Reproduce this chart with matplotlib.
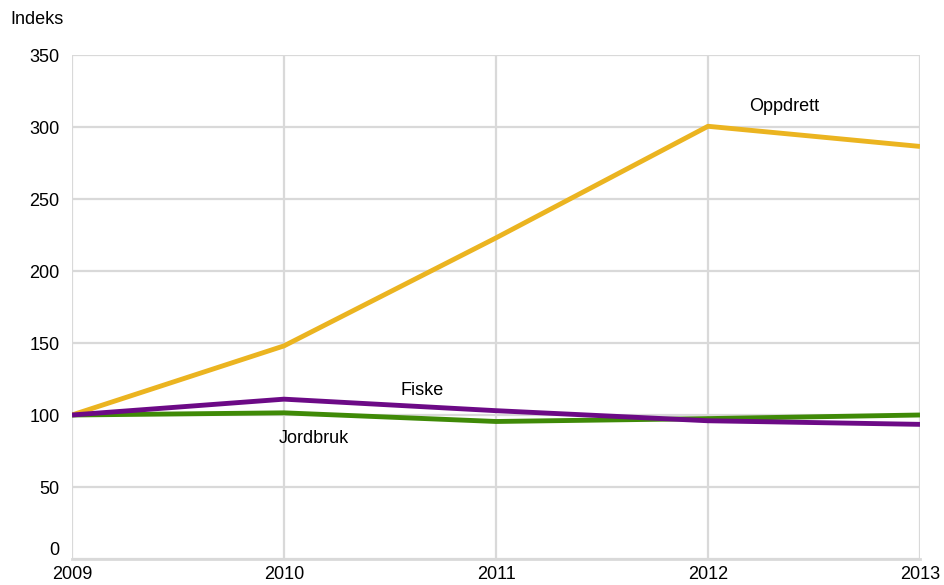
import matplotlib.pyplot as plt

plt.rcParams["font.family"] = ["Liberation Sans", "DejaVu Sans"]

years = [2009, 2010, 2011, 2012, 2013]
oppdrett = [100, 148, 223, 300.5, 286.5]
fiske = [100, 111, 103, 96, 93.5]
jordbruk = [100, 101.5, 95.5, 97.5, 100]

yticks = [0, 50, 100, 150, 200, 250, 300, 350]

fig = plt.figure(figsize=(9.45, 5.85), dpi=100)
ax = fig.add_axes([72 / 945, 1 - 559 / 585, 848 / 945, 504 / 585])

grid_col = "#d9d9d9"
ax.plot(years, jordbruk, color="#3f8a07", lw=3.5, solid_capstyle="butt", zorder=3)
ax.plot(years, fiske, color="#6c0a86", lw=3.5, solid_capstyle="butt", zorder=4)
ax.plot(years, oppdrett, color="#ebb420", lw=3.5, solid_capstyle="butt", zorder=3)

ax.set_xlim(2009, 2013)
ax.set_ylim(0, 350)
ax.set_xticks(years)
ax.set_yticks(yticks)
ax.tick_params(axis="both", length=0, labelsize=13)
ax.tick_params(axis="x", pad=5)
ax.tick_params(axis="y", pad=9)
ax.grid(True, color=grid_col, lw=1.6)
ax.set_axisbelow(True)
for side in ["top", "right", "left"]:
    ax.spines[side].set_visible(False)
ax.spines["bottom"].set_color(grid_col)
ax.spines["bottom"].set_linewidth(2)

# lift the "0" label a touch so it clears the first year label
ax.get_yticklabels()[0].set_va("bottom")

ax.text(2012.36, 314, "Oppdrett", fontsize=13, ha="center", va="center")
ax.text(2010.65, 117, "Fiske", fontsize=13, ha="center", va="center")
ax.text(2010.14, 84, "Jordbruk", fontsize=13, ha="center", va="center")
fig.text(10 / 945, 1 - 20 / 585, "Indeks", fontsize=13, ha="left", va="center")

fig.savefig("out.png", dpi=100)
